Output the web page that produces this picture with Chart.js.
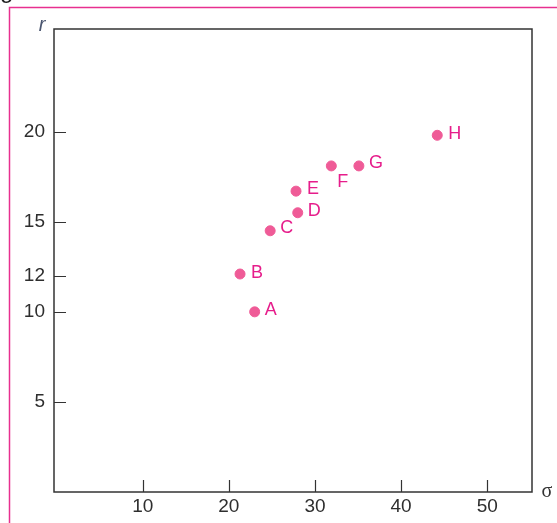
<!DOCTYPE html>
<html>
<head>
<meta charset="utf-8">
<script src="https://cdn.jsdelivr.net/npm/chart.js@4.4.0/dist/chart.umd.min.js"></script>
<style>
    html, body { margin: 0; padding: 0; background: #fff; }
    #wrap { width: 557px; height: 523px; position: relative; }
</style>
</head>
<body>
<div id="wrap"><canvas id="riskChart"></canvas></div>
<script>
const pointNames = ['A', 'B', 'C', 'D', 'E', 'F', 'G', 'H'];
const sigmaValues = [23.0, 21.3, 24.8, 28.0, 27.8, 31.9, 35.1, 44.2];
const rValues = [10.0, 12.1, 14.5, 15.5, 16.7, 18.1, 18.1, 19.8];
const xTickValues = [10, 20, 30, 40, 50];
const yTickValues = [5, 10, 12, 15, 20];

// where each letter sits relative to its dot
const labelOffsets = {
    A: [10, -2], B: [11, -1], C: [10, -3], D: [10, -2],
    E: [11, -2], F: [6, 16], G: [10, -3], H: [11, -1]
};

const pointColor = '#ef5b97';
const labelColor = '#e61d8b';
const axisColor = '#333333';

const decorPlugin = {
    id: 'decor',
    afterDraw(chart) {
        const ctx = chart.ctx;
        const area = chart.chartArea;
        const xs = chart.scales.x;
        const ys = chart.scales.y;
        ctx.save();

        // pink page frame
        ctx.strokeStyle = '#e8308f';
        ctx.lineWidth = 1.5;
        ctx.beginPath();
        ctx.moveTo(9.5, 523);
        ctx.lineTo(9.5, 7.5);
        ctx.lineTo(557, 7.5);
        ctx.stroke();

        // cut-off letter at the top
        ctx.fillStyle = '#222';
        ctx.font = '24px "Liberation Sans", Arial, sans-serif';
        ctx.textAlign = 'left';
        ctx.textBaseline = 'alphabetic';
        ctx.fillText('g', 0, -2);

        // plot box
        ctx.strokeStyle = axisColor;
        ctx.lineWidth = 1.5;
        ctx.strokeRect(area.left, area.top, area.right - area.left, area.bottom - area.top);

        // inward ticks
        ctx.lineWidth = 1.2;
        ctx.beginPath();
        xTickValues.forEach(v => {
            const px = Math.round(xs.getPixelForValue(v)) + 0.5;
            ctx.moveTo(px, area.bottom);
            ctx.lineTo(px, area.bottom - 12);
        });
        yTickValues.forEach(v => {
            const py = Math.round(ys.getPixelForValue(v)) + 0.5;
            ctx.moveTo(area.left, py);
            ctx.lineTo(area.left + 12, py);
        });
        ctx.stroke();

        // point letters
        ctx.fillStyle = labelColor;
        ctx.font = '18px "Liberation Sans", Arial, sans-serif';
        ctx.textAlign = 'left';
        ctx.textBaseline = 'middle';
        const meta = chart.getDatasetMeta(0);
        meta.data.forEach((pt, i) => {
            const name = pointNames[i];
            const off = labelOffsets[name];
            ctx.fillText(name, pt.x + off[0], pt.y + off[1]);
        });

        // axis names
        ctx.fillStyle = '#4b5670';
        ctx.font = 'italic 20px "Liberation Sans", Arial, sans-serif';
        ctx.textAlign = 'center';
        ctx.textBaseline = 'alphabetic';
        ctx.fillText('r', 42, 31);

        ctx.fillStyle = '#333';
        ctx.font = '20px "Liberation Serif", "DejaVu Serif", serif';
        ctx.textAlign = 'center';
        ctx.textBaseline = 'middle';
        ctx.fillText('σ', 547, 492);

        ctx.restore();
    }
};

const ctx = document.getElementById('riskChart').getContext('2d');

new Chart(ctx, {
    type: 'scatter',
    data: {
        datasets: [{
            label: 'Portfolios',
            data: sigmaValues.map((s, i) => ({ x: s, y: rValues[i] })),
            backgroundColor: pointColor,
            borderColor: pointColor,
            pointRadius: 5,
            pointHoverRadius: 5
        }]
    },
    options: {
        responsive: true,
        maintainAspectRatio: false,
        animation: false,
        layout: {
            padding: { top: 29, right: 25, left: 0, bottom: 0 }
        },
        plugins: {
            legend: { display: false },
            tooltip: { enabled: false }
        },
        scales: {
            x: {
                type: 'linear',
                min: -0.3,
                max: 55.2,
                afterFit: scale => { scale.height = 31; },
                afterBuildTicks: scale => {
                    scale.ticks = xTickValues.map(v => ({ value: v }));
                },
                grid: { display: false, drawTicks: false },
                border: { display: false },
                ticks: {
                    padding: 3,
                    color: '#2e2e2e',
                    font: { size: 19, family: '"Liberation Sans", Arial, sans-serif' }
                }
            },
            y: {
                type: 'linear',
                min: 0,
                max: 25.7,
                afterFit: scale => { scale.width = 54; },
                afterBuildTicks: scale => {
                    scale.ticks = yTickValues.map(v => ({ value: v }));
                },
                grid: { display: false, drawTicks: false },
                border: { display: false },
                ticks: {
                    padding: 9,
                    color: '#2e2e2e',
                    font: { size: 19, family: '"Liberation Sans", Arial, sans-serif' }
                }
            }
        }
    },
    plugins: [decorPlugin]
});
</script>
</body>
</html>
